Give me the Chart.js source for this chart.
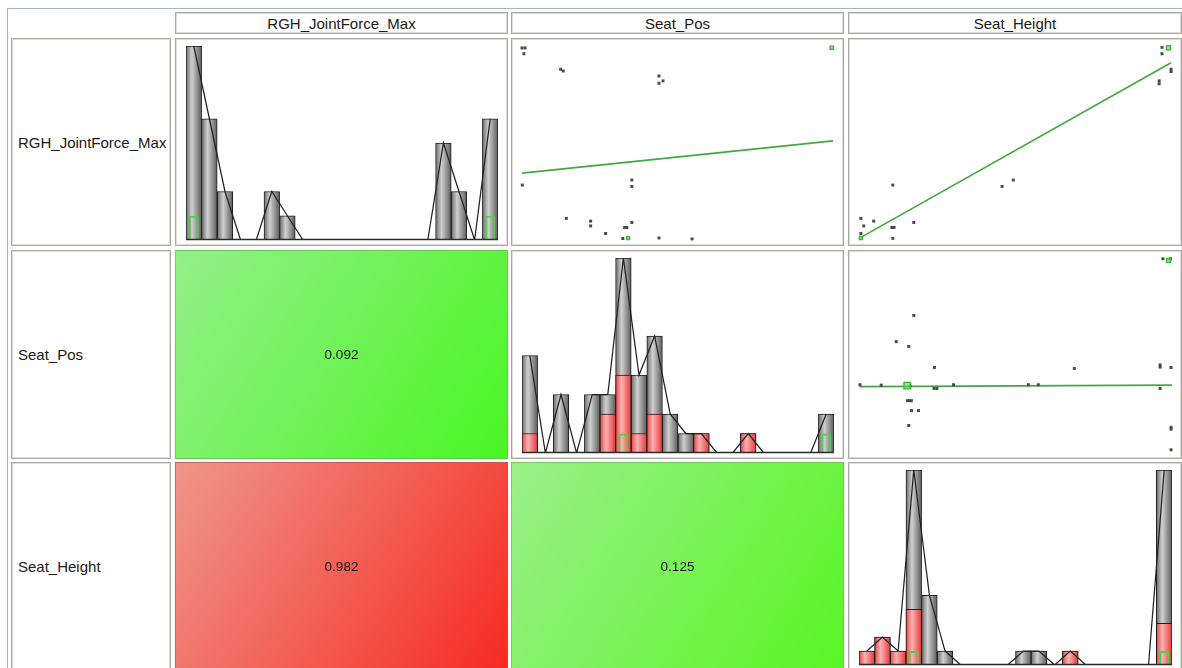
<!DOCTYPE html>
<html>
<head>
<meta charset="utf-8">
<title>Scatter plot matrix</title>
<script src="https://cdn.jsdelivr.net/npm/chart.js@4.4.1/dist/chart.umd.min.js"></script>
<style>
  html, body { margin: 0; padding: 0; background: #fff; width: 1182px; height: 668px; overflow: hidden;
               font-family: "Liberation Sans", Arial, sans-serif; }
  #frame { position: absolute; left: 7px; top: 8px; width: 1300px; height: 800px;
           border-left: 1px solid #a3b5c9; border-top: 1px solid #a3b5c9; }
  .cell { position: absolute; box-sizing: border-box; border: 1px solid #a9a9a1;
          box-shadow: inset 0 0 0 1px #dedcd6; background: #fff; }
  .hdr { display: flex; align-items: center; justify-content: center; font-size: 15px; color: #1a1a1a; }
  .lbl { display: flex; align-items: center; padding-left: 6px; font-size: 15px; color: #1a1a1a; }
  canvas { position: absolute; display: block; }
</style>
</head>
<body>
<div id="frame"></div>
<div id="matrix"></div>
<script>
// ---- variables shown in the matrix ----
const variables = ['RGH_JointForce_Max', 'Seat_Pos', 'Seat_Height'];

// ---- histograms: counts in 20 equal-width bins over each variable's range ----
const binLabels = ['1','2','3','4','5','6','7','8','9','10','11','12','13','14','15','16','17','18','19','20'];

const forceCounts    = [8, 5, 2, 0, 0, 2, 1, 0, 0, 0, 0, 0, 0, 0, 0, 0, 4, 2, 0, 5];
const forceSelected  = [0, 0, 0, 0, 0, 0, 0, 0, 0, 0, 0, 0, 0, 0, 0, 0, 0, 0, 0, 0];
const forceHighlight = [1, 0, 0, 0, 0, 0, 0, 0, 0, 0, 0, 0, 0, 0, 0, 0, 0, 0, 0, 1];

const posCounts      = [5, 0, 3, 0, 3, 3, 10, 4, 6, 2, 1, 1, 0, 0, 1, 0, 0, 0, 0, 2];
const posSelected    = [1, 0, 0, 0, 0, 2, 4, 1, 2, 0, 0, 1, 0, 0, 1, 0, 0, 0, 0, 0];
const posHighlight   = [0, 0, 0, 0, 0, 0, 1, 0, 0, 0, 0, 0, 0, 0, 0, 0, 0, 0, 0, 1];

const heightCounts    = [1, 2, 1, 14, 5, 1, 0, 0, 0, 0, 1, 1, 0, 1, 0, 0, 0, 0, 0, 14];
const heightSelected  = [1, 2, 1, 4, 0, 0, 0, 0, 0, 0, 0, 0, 0, 1, 0, 0, 0, 0, 0, 3];
const heightHighlight = [0, 0, 0, 1, 0, 0, 0, 0, 0, 0, 0, 0, 0, 0, 0, 0, 0, 0, 0, 1];

// ---- scatter plots: values scaled to 0..1 within each variable's range ----
// Seat_Pos (x) vs RGH_JointForce_Max (y)
const posForceX   = [0.000, 0.010, 0.006, 0.124, 0.132, 0.439, 0.452, 0.439, 0.352, 0.352, 0.001, 0.142, 0.220, 0.220, 0.268, 0.329, 0.336, 0.352, 0.323, 0.439, 0.545];
const posForceY   = [0.990, 0.990, 0.960, 0.880, 0.871, 0.845, 0.820, 0.808, 0.308, 0.275, 0.282, 0.110, 0.096, 0.071, 0.032, 0.063, 0.063, 0.089, 0.006, 0.009, 0.004];
const posForceHiX = [0.993, 0.340];
const posForceHiY = [0.991, 0.008];
const posForceFitX = [0.000, 0.997];
const posForceFitY = [0.344, 0.510];

// Seat_Height (x) vs RGH_JointForce_Max (y)
const heightForceX   = [0.968, 0.968, 0.997, 0.997, 0.959, 0.959, 0.108, 0.493, 0.457, 0.006, 0.047, 0.015, 0.105, 0.112, 0.175, 0.006, 0.108];
const heightForceY   = [0.993, 0.960, 0.880, 0.868, 0.820, 0.805, 0.282, 0.308, 0.275, 0.110, 0.096, 0.071, 0.063, 0.063, 0.089, 0.032, 0.007];
const heightForceHiX = [0.989, 0.006];
const heightForceHiY = [0.991, 0.009];
const heightForceFitX = [0.006, 0.997];
const heightForceFitY = [0.012, 0.914];

// Seat_Height (x) vs Seat_Pos (y)
const heightPosX   = [0.971, 0.995, 0.175, 0.119, 0.159, 0.241, 0.688, 0.962, 0.962, 0.997, 0.003, 0.071, 0.163, 0.240, 0.249, 0.302, 0.541, 0.573, 0.962, 0.155, 0.161, 0.167, 0.168, 0.190, 0.159, 0.997, 0.997, 0.997];
const heightPosY   = [0.996, 0.996, 0.704, 0.569, 0.544, 0.436, 0.431, 0.449, 0.438, 0.436, 0.347, 0.345, 0.340, 0.328, 0.328, 0.347, 0.347, 0.347, 0.328, 0.265, 0.265, 0.265, 0.214, 0.214, 0.137, 0.128, 0.118, 0.012];
const heightPosHiX = [0.989, 0.154];
const heightPosHiY = [0.988, 0.342];
const heightPosFitX = [0.001, 1.000];
const heightPosFitY = [0.337, 0.345];

// ---- correlation coefficients for the lower triangle ----
const corrRows   = ['Seat_Pos', 'Seat_Height', 'Seat_Height'];
const corrCols   = ['RGH_JointForce_Max', 'RGH_JointForce_Max', 'Seat_Pos'];
const corrValues = [0.092, 0.982, 0.125];

// ---- layout of the grid ----
const colX = [11, 175, 511, 848];
const colW = [160, 333, 333, 334];
const rowY = [12, 38, 250, 462];
const rowH = [22, 208, 209, 209];
const PLOT_PAD = { left: 10, right: 9, top: 7, bottom: 5 };

const GRAY = ['#6a6a6a', '#d0d0d0', '#5c5c5c'];
const RED  = ['#e64444', '#ffb2b2', '#e23a3a'];

const matrix = document.getElementById('matrix');

function addDiv(cls, x, y, w, h, text) {
  const d = document.createElement('div');
  d.className = cls;
  Object.assign(d.style, { left: x + 'px', top: y + 'px', width: w + 'px', height: h + 'px' });
  if (text) d.textContent = text;
  matrix.appendChild(d);
  return d;
}

function addCanvas(x, y, w, h) {
  const c = document.createElement('canvas');
  c.width = w; c.height = h;
  Object.assign(c.style, { left: x + 'px', top: y + 'px', width: w + 'px', height: h + 'px' });
  matrix.appendChild(c);
  return c;
}

// framed cell with a canvas inside the frame
function plotCanvas(r, c) {
  addDiv('cell', colX[c], rowY[r], colW[c], rowH[r]);
  return addCanvas(colX[c] + 1, rowY[r] + 1, colW[c] - 2, rowH[r] - 2);
}

// shaded, cylinder-like fill across each bar's width
function cylinderFill(colors) {
  return (ctx) => {
    const chart = ctx.chart, xs = chart.scales.x;
    if (!chart.chartArea || !xs || ctx.dataIndex === undefined) return colors[1];
    const cx = xs.getPixelForValue(ctx.dataIndex);
    const hw = xs.width / chart.data.labels.length / 2;
    const g = chart.ctx.createLinearGradient(cx - hw, 0, cx + hw, 0);
    g.addColorStop(0, colors[0]);
    g.addColorStop(0.38, colors[1]);
    g.addColorStop(1, colors[2]);
    return g;
  };
}

const baseline = {
  id: 'baseline',
  afterDatasetsDraw(chart) {
    const { ctx, chartArea: a } = chart;
    ctx.save();
    ctx.strokeStyle = '#2a2a2a';
    ctx.lineWidth = 1.4;
    ctx.beginPath();
    ctx.moveTo(a.left, Math.round(a.bottom) - 0.5);
    ctx.lineTo(a.right, Math.round(a.bottom) - 0.5);
    ctx.stroke();
    ctx.restore();
  }
};

const common = {
  responsive: false,
  animation: false,
  events: [],
  plugins: { legend: { display: false }, tooltip: { enabled: false } }
};

function histogram(canvas, counts, selected, highlight) {
  const barBase = { barPercentage: 1, categoryPercentage: 1, grouped: false, borderWidth: 1, borderColor: '#1e1e1e' };
  return new Chart(canvas, {
    type: 'bar',
    data: {
      labels: binLabels,
      datasets: [
        { type: 'line', data: counts, borderColor: '#222222', borderWidth: 1.25, pointRadius: 0, tension: 0, order: 0 },
        { data: highlight.map(v => v || null), backgroundColor: 'rgba(0,0,0,0)', borderColor: '#4ccf4c',
          borderWidth: 2, barPercentage: 0.64, categoryPercentage: 1, grouped: false, order: 1 },
        Object.assign({ data: selected.map(v => v || null), backgroundColor: cylinderFill(RED), order: 2 }, barBase),
        Object.assign({ data: counts.map(v => v || null), backgroundColor: cylinderFill(GRAY), order: 3 }, barBase)
      ]
    },
    options: Object.assign({}, common, {
      layout: { padding: PLOT_PAD },
      scales: {
        x: { display: false },
        y: { display: false, min: 0, max: Math.max(...counts) }
      }
    }),
    plugins: [baseline]
  });
}

function scatter(canvas, xs, ys, hx, hy, fx, fy, hiRadius) {
  const pts = (a, b) => a.map((v, i) => ({ x: v, y: b[i] }));
  return new Chart(canvas, {
    type: 'scatter',
    data: {
      datasets: [
        { data: pts(hx, hy), pointStyle: 'rect', pointRadius: hiRadius,
          pointBackgroundColor: 'rgba(100,215,100,0.7)', pointBorderColor: '#30bb30', pointBorderWidth: 1.3,
          clip: false, order: 0 },
        { data: pts(xs, ys), pointStyle: 'rect', pointRadius: 2.1,
          pointBackgroundColor: '#4a4a4a', pointBorderWidth: 0, clip: false, order: 1 },
        { type: 'line', data: pts(fx, fy), borderColor: '#43a843', borderWidth: 1.7,
          pointRadius: 0, showLine: true, clip: false, order: 2 }
      ]
    },
    options: Object.assign({}, common, {
      layout: { padding: PLOT_PAD },
      scales: {
        x: { type: 'linear', display: false, min: 0, max: 1 },
        y: { type: 'linear', display: false, min: 0, max: 1 }
      }
    })
  });
}

function correlation(canvas, r) {
  const hue = 120 * (1 - Math.abs(r));
  const label = {
    id: 'corrLabel',
    afterDatasetsDraw(chart) {
      const { ctx, chartArea: a } = chart;
      ctx.save();
      ctx.fillStyle = '#141414';
      ctx.font = '13.5px "Liberation Sans", Arial, sans-serif';
      ctx.textAlign = 'center';
      ctx.textBaseline = 'middle';
      ctx.fillText(r.toFixed(3), (a.left + a.right) / 2, (a.top + a.bottom) / 2 + 1);
      ctx.restore();
    }
  };
  return new Chart(canvas, {
    type: 'bar',
    data: {
      labels: [r.toFixed(3)],
      datasets: [{
        data: [1],
        backgroundColor: (ctx) => {
          const a = ctx.chart.chartArea;
          if (!a) return `hsl(${hue},90%,60%)`;
          const g = ctx.chart.ctx.createLinearGradient(a.left, a.top, a.right, a.bottom);
          g.addColorStop(0, `hsl(${hue + 5},76%,74%)`);
          g.addColorStop(1, `hsl(${hue},92%,55%)`);
          return g;
        },
        borderColor: `hsl(${hue},45%,52%)`,
        borderWidth: 1,
        borderSkipped: false,
        barPercentage: 1,
        categoryPercentage: 1
      }]
    },
    options: Object.assign({}, common, {
      layout: { padding: 0 },
      scales: {
        x: { display: false },
        y: { display: false, min: 0, max: 1 }
      }
    }),
    plugins: [label]
  });
}

// ---- header row and row labels ----
variables.forEach((name, i) => {
  addDiv('cell hdr', colX[i + 1], rowY[0], colW[i + 1], rowH[0], name);
  addDiv('cell lbl', colX[0], rowY[i + 1], colW[0], rowH[i + 1], name);
});

// ---- diagonal: histograms ----
histogram(plotCanvas(1, 1), forceCounts, forceSelected, forceHighlight);
histogram(plotCanvas(2, 2), posCounts, posSelected, posHighlight);
histogram(plotCanvas(3, 3), heightCounts, heightSelected, heightHighlight);

// ---- upper triangle: scatter plots with fitted lines ----
scatter(plotCanvas(1, 2), posForceX, posForceY, posForceHiX, posForceHiY, posForceFitX, posForceFitY, [2.4, 2.2]);
scatter(plotCanvas(1, 3), heightForceX, heightForceY, heightForceHiX, heightForceHiY, heightForceFitX, heightForceFitY, [3.0, 2.2]);
scatter(plotCanvas(2, 3), heightPosX, heightPosY, heightPosHiX, heightPosHiY, heightPosFitX, heightPosFitY, [2.8, 4.6]);

// ---- lower triangle: correlation cells ----
corrValues.forEach((r, k) => {
  const row = variables.indexOf(corrRows[k]) + 1;
  const col = variables.indexOf(corrCols[k]) + 1;
  correlation(addCanvas(colX[col], rowY[row], colW[col], rowH[row]), r);
});
</script>
</body>
</html>
